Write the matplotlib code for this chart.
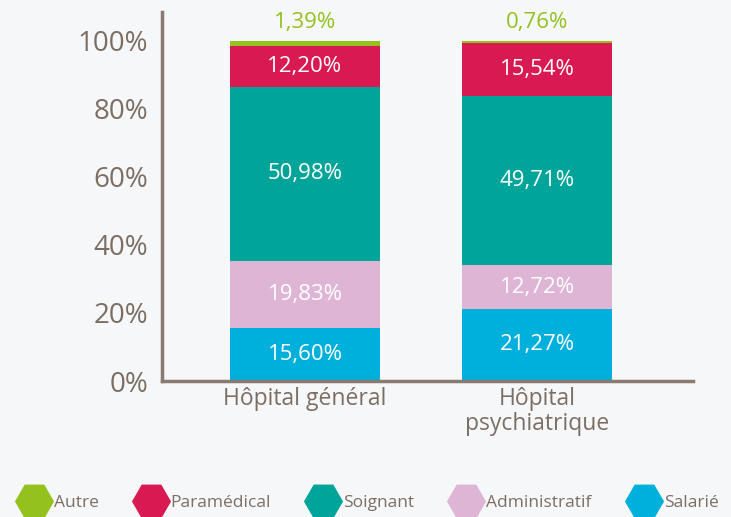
import matplotlib.pyplot as plt
from matplotlib.lines import Line2D

categories = ["Hôpital général", "Hôpital\npsychiatrique"]
groups = ["Salarié", "Administratif", "Soignant", "Paramédical", "Autre"]
salarie = [15.60, 21.27]
administratif = [19.83, 12.72]
soignant = [50.98, 49.71]
paramedical = [12.20, 15.54]
autre = [1.39, 0.76]
yticks = [0, 20, 40, 60, 80, 100]

colors = {
    "Salarié": "#00b0dc",
    "Administratif": "#dfb5d6",
    "Soignant": "#00a499",
    "Paramédical": "#d91a52",
    "Autre": "#95c11f",
}
axis_col = "#8a7b72"
text_col = "#7d6e64"

plt.rcParams['font.family'] = ['Open Sans', 'DejaVu Sans']

fig = plt.figure(figsize=(7.31, 5.17), dpi=100, facecolor="#f5f7f8")
ax = fig.add_axes([162 / 731, 1 - 381 / 517, (693 - 162) / 731, (381 - 12) / 517])
ax.set_facecolor("none")

series = [salarie, administratif, soignant, paramedical, autre]
x = list(range(len(categories)))
bottom = [0.0] * len(categories)
for name, vals in zip(groups, series):
    ax.bar(x, vals, width=0.647, bottom=bottom, color=colors[name], zorder=2)
    for i, v in enumerate(vals):
        fmt = f"{v:.2f}".replace(".", ",") + "%"
        if name == "Autre":
            ax.text(i, bottom[i] + v + 2.3, fmt, ha="center", va="bottom",
                    color=colors[name], fontsize=16)
        else:
            ax.text(i, bottom[i] + v / 2, fmt, ha="center", va="center",
                    color="white", fontsize=16)
    bottom = [b + v for b, v in zip(bottom, vals)]

ax.set_xlim(-0.616, 1.672)
ax.set_ylim(0, 108.5)
ax.set_yticks(yticks)
ax.set_yticklabels([f"{t}%" for t in yticks], fontsize=20, color=text_col)
ax.set_xticks(x)
ax.set_xticklabels(categories, fontsize=16.5, color=text_col, linespacing=1.1)
ax.tick_params(axis="both", length=0)
ax.tick_params(axis="x", pad=4)
ax.tick_params(axis="y", pad=10)
for s in ["top", "right"]:
    ax.spines[s].set_visible(False)
for s in ["left", "bottom"]:
    ax.spines[s].set_color(axis_col)
    ax.spines[s].set_linewidth(2.5)

handles = [Line2D([], [], marker="H", linestyle="none", markersize=27,
                  markerfacecolor=colors[g], markeredgecolor=colors[g])
           for g in groups[::-1]]
leg = fig.legend(handles, groups[::-1], loc="center left",
                 bbox_to_anchor=(13 / 731, 1 - 503 / 517), ncol=5, frameon=False,
                 fontsize=12.5, handlelength=1.6, handletextpad=0.35,
                 columnspacing=2.2, borderaxespad=0)
for t in leg.get_texts():
    t.set_color(text_col)

fig.savefig("out.png", dpi=100, facecolor=fig.get_facecolor())
